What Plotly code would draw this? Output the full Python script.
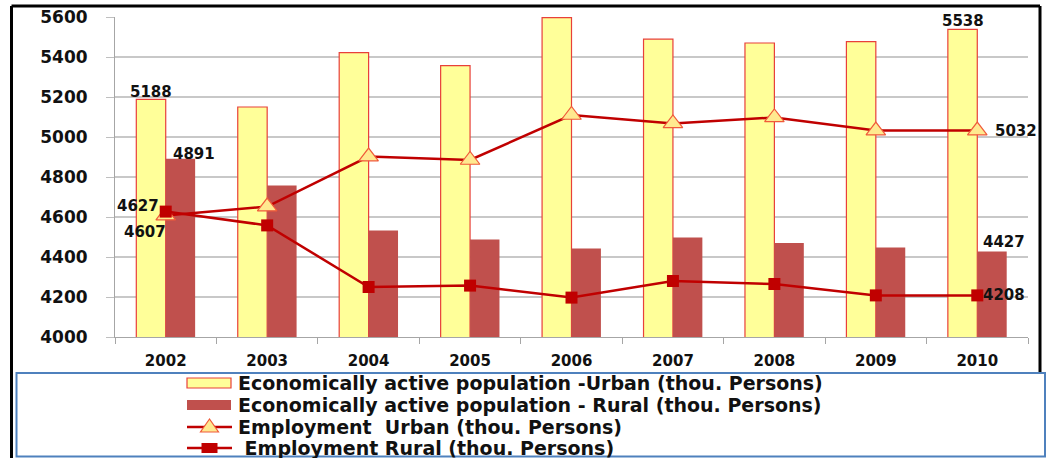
import plotly.graph_objects as go

years = ["2002", "2003", "2004", "2005", "2006", "2007", "2008", "2009", "2010"]
active_urban = [5188, 5150, 5422, 5357, 5597, 5489, 5470, 5477, 5538]
active_rural = [4891, 4758, 4532, 4488, 4443, 4498, 4470, 4447, 4427]
employ_urban = [4607, 4652, 4902, 4885, 5110, 5068, 5098, 5032, 5032]
employ_rural = [4627, 4558, 4250, 4257, 4197, 4280, 4265, 4208, 4208]

names = [
    "Economically active population -Urban (thou. Persons)",
    "Economically active population - Rural (thou. Persons)",
    "Employment  Urban (thou. Persons)",
    " Employment Rural (thou. Persons)",
]

W, H = 1050, 458
L, R, T, B = 115, 22, 17, 121
PW, PH = W - L - R, H - T - B


def px(x):
    return (x - L) / PW


def py(y):
    return (H - B - y) / PH


FONT = "DejaVu Sans"
BAR_W = 0.29
URBAN_FILL, URBAN_EDGE = "#FFFF99", "#E8403A"
RURAL_FILL = "#C0504D"
LINE_RED = "#C00000"
TRI_FILL, TRI_EDGE = "#FFE98F", "#F05A3A"

fig = go.Figure()
fig.add_trace(go.Bar(
    x=years, y=active_urban, name=names[0], width=BAR_W, offset=-BAR_W,
    marker=dict(color=URBAN_FILL, line=dict(color=URBAN_EDGE, width=1.2)),
))
fig.add_trace(go.Bar(
    x=years, y=active_rural, name=names[1], width=BAR_W, offset=0,
    marker=dict(color=RURAL_FILL, line=dict(width=0)),
))
fig.add_trace(go.Scatter(
    x=years, y=employ_urban, name=names[2], mode="lines+markers",
    line=dict(color=LINE_RED, width=2.5),
    marker=dict(symbol="triangle-up", size=17, color=TRI_FILL,
                line=dict(color=TRI_EDGE, width=1.2)),
))
fig.add_trace(go.Scatter(
    x=years, y=employ_rural, name=names[3], mode="lines+markers",
    line=dict(color=LINE_RED, width=2.5),
    marker=dict(symbol="square", size=12, color=LINE_RED,
                line=dict(color=LINE_RED, width=0)),
))

# value labels (index, value, x offset in categories, y shift in px)
lab_font = dict(family=FONT, size=15, color="#111111", weight="bold")
labels = [
    (0, active_urban[0], -0.145, 7),
    (0, active_rural[0], 0.28, 5),
    (0, employ_rural[0], -0.27, 6),
    (0, employ_urban[0], -0.2, -16),
    (8, active_urban[8], -0.145, 8),
    (8, employ_urban[8], 0.38, 0),
    (8, active_rural[8], 0.26, 10),
    (8, employ_rural[8], 0.26, 0),
]
annotations = []
for i, v, dx, dy in labels:
    annotations.append(dict(
        x=i + dx, y=v, xref="x", yref="y", text=str(v), showarrow=False,
        font=lab_font, yshift=dy, xanchor="center", yanchor="middle",
    ))

shapes = [
    # outer frame
    dict(type="line", xref="paper", yref="paper", x0=px(11.5), x1=px(1040),
         y0=py(6), y1=py(6), line=dict(color="#000000", width=3)),
    dict(type="line", xref="paper", yref="paper", x0=px(11.5), x1=px(11.5),
         y0=py(6), y1=py(470), line=dict(color="#000000", width=3)),
    dict(type="line", xref="paper", yref="paper", x0=px(1040), x1=px(1040),
         y0=py(6), y1=py(372), line=dict(color="#000000", width=3)),
    # legend box
    dict(type="rect", xref="paper", yref="paper", x0=px(16.5), x1=px(1045),
         y0=py(373), y1=py(456.5), line=dict(color="#4F81BD", width=2),
         fillcolor="rgba(0,0,0,0)"),
]

# legend drawn as shapes + text rows
leg_rows = [383, 405, 427, 448]
sx0, sx1, tx = 187, 231, 236
leg_font = dict(family=FONT, size=19, color="#111111", weight="bold")
for k, yc in enumerate(leg_rows):
    annotations.append(dict(
        x=px(tx), y=py(yc), xref="paper", yref="paper", text=names[k],
        showarrow=False, xanchor="left", yanchor="middle", font=leg_font,
    ))
shapes += [
    dict(type="rect", xref="paper", yref="paper", x0=px(sx0), x1=px(sx1),
         y0=py(leg_rows[0] - 5), y1=py(leg_rows[0] + 5),
         fillcolor=URBAN_FILL, line=dict(color=URBAN_EDGE, width=1.2)),
    dict(type="rect", xref="paper", yref="paper", x0=px(sx0), x1=px(sx1),
         y0=py(leg_rows[1] - 5), y1=py(leg_rows[1] + 5),
         fillcolor=RURAL_FILL, line=dict(width=0)),
    dict(type="line", xref="paper", yref="paper", x0=px(sx0), x1=px(sx1 + 1),
         y0=py(leg_rows[2]), y1=py(leg_rows[2]),
         line=dict(color=LINE_RED, width=2.5)),
    dict(type="line", xref="paper", yref="paper", x0=px(sx0), x1=px(sx1 + 1),
         y0=py(leg_rows[3]), y1=py(leg_rows[3]),
         line=dict(color=LINE_RED, width=2.5)),
]
cx = (sx0 + sx1) / 2 + 0.5
ty = leg_rows[2]
tri = "M {:.5f},{:.5f} L {:.5f},{:.5f} L {:.5f},{:.5f} Z".format(
    px(cx), py(ty - 8), px(cx - 9), py(ty + 5), px(cx + 9), py(ty + 5))
shapes.append(dict(type="path", xref="paper", yref="paper", path=tri,
                   fillcolor=TRI_FILL, line=dict(color=TRI_EDGE, width=1.2)))
sq = leg_rows[3]
shapes.append(dict(type="rect", xref="paper", yref="paper",
                   x0=px(cx - 8), x1=px(cx + 8), y0=py(sq - 5), y1=py(sq + 5),
                   fillcolor=LINE_RED, line=dict(width=0)))

fig.update_layout(
    width=W, height=H,
    margin=dict(l=L, r=R, t=T, b=B, autoexpand=False),
    paper_bgcolor="white", plot_bgcolor="white",
    barmode="overlay",
    showlegend=False,
    annotations=annotations,
    shapes=shapes,
    xaxis=dict(
        type="category", range=[-0.5, 8.5],
        showline=True, linecolor="#A6A6A6", linewidth=1,
        ticks="outside", tickson="boundaries", ticklen=6, tickcolor="#A6A6A6",
        showgrid=False,
        tickfont=dict(family=FONT, size=15, color="#111111", weight="bold"),
        ticklabelstandoff=10,
    ),
    yaxis=dict(
        range=[4000, 5600], tickvals=list(range(4000, 5601, 200)),
        showline=True, linecolor="#A6A6A6", linewidth=1,
        ticks="outside", ticklen=8, tickcolor="#BFBFBF",
        showgrid=True, gridcolor="#C8C8C8", gridwidth=1.5,
        tickfont=dict(family=FONT, size=17, color="#111111", weight="bold"),
        ticklabelstandoff=15, zeroline=False,
    ),
)

fig.write_html("out.html")
